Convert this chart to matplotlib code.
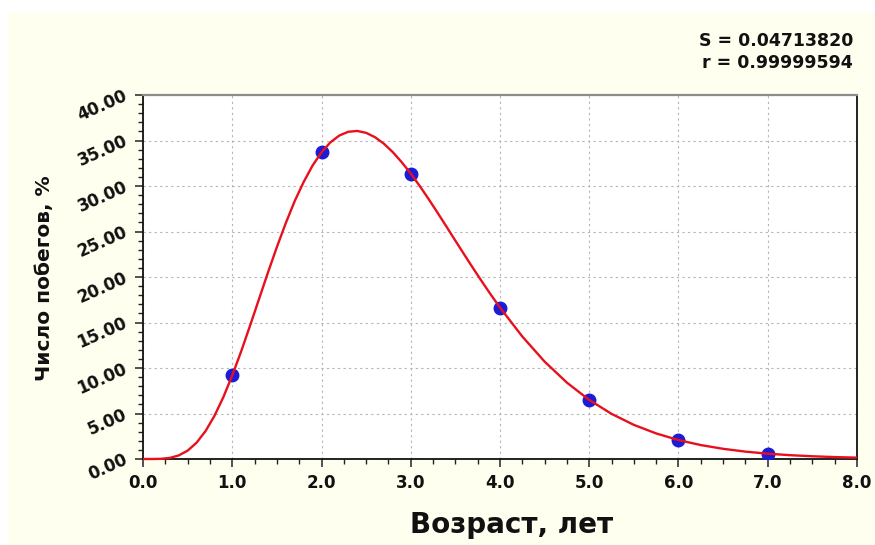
import matplotlib
matplotlib.use("Agg")
import matplotlib.pyplot as plt
from matplotlib.patches import Rectangle
from matplotlib.ticker import MultipleLocator, FormatStrFormatter

# Observed shares of shoots by age
age = [1, 2, 3, 4, 5, 6, 7]
share = [9.2, 33.7, 31.3, 16.6, 6.5, 2.1, 0.55]

# Fitted curve, sampled along the age axis
curve_x = [0.0, 0.1, 0.2, 0.3, 0.4, 0.5, 0.6, 0.7, 0.8, 0.9,
           1.0, 1.1, 1.2, 1.3, 1.4, 1.5, 1.6, 1.7, 1.8, 1.9,
           2.0, 2.1, 2.2, 2.3, 2.4, 2.5, 2.6, 2.7, 2.8, 2.9,
           3.0, 3.1, 3.2, 3.3, 3.4, 3.5, 3.6, 3.7, 3.8, 3.9,
           4.0, 4.25, 4.5, 4.75, 5.0, 5.25, 5.5, 5.75, 6.0, 6.25,
           6.5, 6.75, 7.0, 7.25, 7.5, 7.75, 8.0]
curve_y = [0.0, 0.0, 0.02, 0.12, 0.39, 0.92, 1.79, 3.06, 4.73, 6.79,
           9.18, 11.83, 14.67, 17.58, 20.49, 23.29, 25.93, 28.35, 30.44, 32.25,
           33.70, 34.80, 35.55, 35.96, 36.05, 35.84, 35.36, 34.64, 33.71, 32.60,
           31.37, 30.01, 28.57, 27.07, 25.54, 23.99, 22.46, 20.94, 19.46, 18.02,
           16.64, 13.46, 10.70, 8.39, 6.49, 4.96, 3.75, 2.81, 2.08, 1.53,
           1.12, 0.81, 0.585, 0.42, 0.30, 0.21, 0.15]

stat_lines = ["S = 0.04713820", "r = 0.99999594"]
x_label = "Возраст, лет"
y_label = "Число побегов, %"

W, H = 875, 545
fig = plt.figure(figsize=(W / 100, H / 100), dpi=100)
fig.patch.set_facecolor("white")
fig.add_artist(Rectangle((8 / W, 0), 1 - 8 / W, 1 - 13 / H,
                         transform=fig.transFigure, facecolor="#FFFFEF",
                         edgecolor="none", zorder=0))

ax = fig.add_axes([143 / W, 86 / H, 714 / W, 364 / H])
ax.set_facecolor("white")

ax.plot(age, share, "o", color="#1C1CD8", markersize=9, zorder=3)
ax.plot(curve_x, curve_y, color="#E8101C", linewidth=1.7, zorder=5,
        clip_on=False, solid_capstyle="butt", solid_joinstyle="round")

ax.set_xlim(0, 8)
ax.set_ylim(0, 40)
ax.xaxis.set_major_locator(MultipleLocator(1))
ax.xaxis.set_minor_locator(MultipleLocator(0.25))
ax.yaxis.set_major_locator(MultipleLocator(5))
ax.yaxis.set_minor_locator(MultipleLocator(1))
ax.xaxis.set_major_formatter(FormatStrFormatter("%.1f"))
ax.yaxis.set_major_formatter(FormatStrFormatter("%.2f"))

ax.tick_params(which="major", direction="out", length=6, width=1.1,
               color="#222222")
ax.tick_params(which="minor", direction="out", length=3.6, width=1.0,
               color="#222222")
ax.tick_params(axis="x", which="major", pad=5)
ax.tick_params(axis="y", which="major", pad=6)

for lbl in ax.get_xticklabels():
    lbl.set_fontfamily("DejaVu Sans")
    lbl.set_fontweight("bold")
    lbl.set_fontsize(12)
    lbl.set_color("#111111")
for lbl in ax.get_yticklabels():
    lbl.set_fontfamily("DejaVu Sans")
    lbl.set_fontweight("bold")
    lbl.set_fontsize(12)
    lbl.set_color("#111111")
    lbl.set_rotation(24)
    lbl.set_rotation_mode("anchor")
    lbl.set_ha("right")
    lbl.set_va("center")

ax.grid(which="major", color="#B4B4B4", linestyle=(0, (2, 3)), linewidth=0.8)
ax.set_axisbelow(True)

for side in ("left", "bottom", "right"):
    ax.spines[side].set_color("#111111")
    ax.spines[side].set_linewidth(1.3)
ax.spines["top"].set_color("#8C8C8C")
ax.spines["top"].set_linewidth(1.6)

fig.text(512 / W, 1 - 525 / H, x_label, ha="center", va="center",
         fontsize=20, fontweight="bold", family="DejaVu Sans", color="#111111")
fig.text(45 / W, 1 - 278 / H, y_label, ha="center", va="center", rotation=90,
         fontsize=14.5, fontweight="bold", family="DejaVu Sans", color="#111111")

fig.text(853 / W, 1 - 41 / H, stat_lines[0], ha="right", va="center",
         fontsize=12.5, fontweight="bold", family="DejaVu Sans", color="#111111")
fig.text(853 / W, 1 - 63 / H, stat_lines[1], ha="right", va="center",
         fontsize=12.5, fontweight="bold", family="DejaVu Sans", color="#111111")

fig.savefig("out.png", dpi=100, facecolor=fig.get_facecolor())
